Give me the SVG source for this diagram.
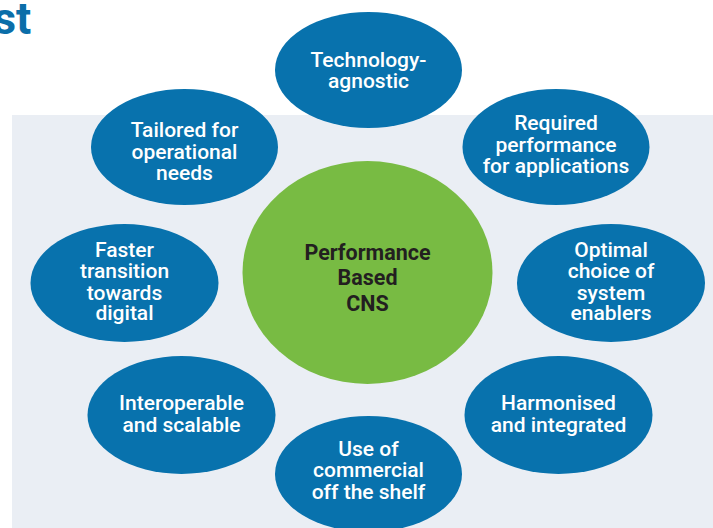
<svg xmlns="http://www.w3.org/2000/svg" width="713" height="528" viewBox="0 0 713 528">
  <style>
    .bubble { fill: #0872ad; }
    .hub { fill: #78bb43; }
    .label { font-family: Roboto, "Liberation Sans", sans-serif; font-size: 21px; font-weight: 500; fill: #ffffff; text-anchor: middle; }
    .hub-label { font-family: Roboto, "Liberation Sans", sans-serif; font-size: 21.5px; font-weight: 700; fill: #231f20; text-anchor: middle; }
    .title { font-family: Roboto, "Liberation Sans", sans-serif; font-size: 45px; font-weight: 700; fill: #0b6ea9; }
  </style>

  <rect width="713" height="528" fill="#ffffff"/>
  <!-- light backdrop panel -->
  <rect x="12" y="115" width="701" height="413" fill="#eaeef4"/>

  <text class="title" x="-7" y="34">st</text>

  <g id="hub">
    <ellipse class="hub" cx="367.5" cy="272.5" rx="125" ry="111.5"/>
    <text class="hub-label" x="367.5" y="259.5">Performance</text>
    <text class="hub-label" x="367.5" y="285">Based</text>
    <text class="hub-label" x="367.5" y="310.5">CNS</text>
  </g>

  <g id="technology-agnostic">
    <ellipse class="bubble" cx="368.5" cy="70" rx="93.5" ry="58"/>
    <text class="label" x="368.5" y="67">Technology-</text>
    <text class="label" x="368.5" y="88">agnostic</text>
  </g>

  <g id="required-performance">
    <ellipse class="bubble" cx="556" cy="147" rx="93.5" ry="58"/>
    <text class="label" x="556" y="130">Required</text>
    <text class="label" x="556" y="151.5">performance</text>
    <text class="label" x="556" y="172.5">for applications</text>
  </g>

  <g id="tailored">
    <ellipse class="bubble" cx="184.5" cy="147" rx="93.5" ry="58"/>
    <text class="label" x="184.5" y="137">Tailored for</text>
    <text class="label" x="184.5" y="159">operational</text>
    <text class="label" x="184.5" y="180">needs</text>
  </g>

  <g id="faster-transition">
    <ellipse class="bubble" cx="124.5" cy="283" rx="94" ry="59"/>
    <text class="label" x="124.5" y="257">Faster</text>
    <text class="label" x="124.5" y="278">transition</text>
    <text class="label" x="124.5" y="300">towards</text>
    <text class="label" x="124.5" y="320">digital</text>
  </g>

  <g id="optimal-choice">
    <ellipse class="bubble" cx="611" cy="283" rx="94" ry="59"/>
    <text class="label" x="611" y="257">Optimal</text>
    <text class="label" x="611" y="278">choice of</text>
    <text class="label" x="611" y="300">system</text>
    <text class="label" x="611" y="320">enablers</text>
  </g>

  <g id="interoperable">
    <ellipse class="bubble" cx="181.5" cy="415" rx="94" ry="59"/>
    <text class="label" x="181.5" y="410">Interoperable</text>
    <text class="label" x="181.5" y="432">and scalable</text>
  </g>

  <g id="harmonised">
    <ellipse class="bubble" cx="558.5" cy="415" rx="94" ry="59"/>
    <text class="label" x="558.5" y="410">Harmonised</text>
    <text class="label" x="558.5" y="432">and integrated</text>
  </g>

  <g id="commercial-off-the-shelf">
    <ellipse class="bubble" cx="368.5" cy="474" rx="93.5" ry="58"/>
    <text class="label" x="368.5" y="456">Use of</text>
    <text class="label" x="368.5" y="477">commercial</text>
    <text class="label" x="368.5" y="499">off the shelf</text>
  </g>
</svg>
